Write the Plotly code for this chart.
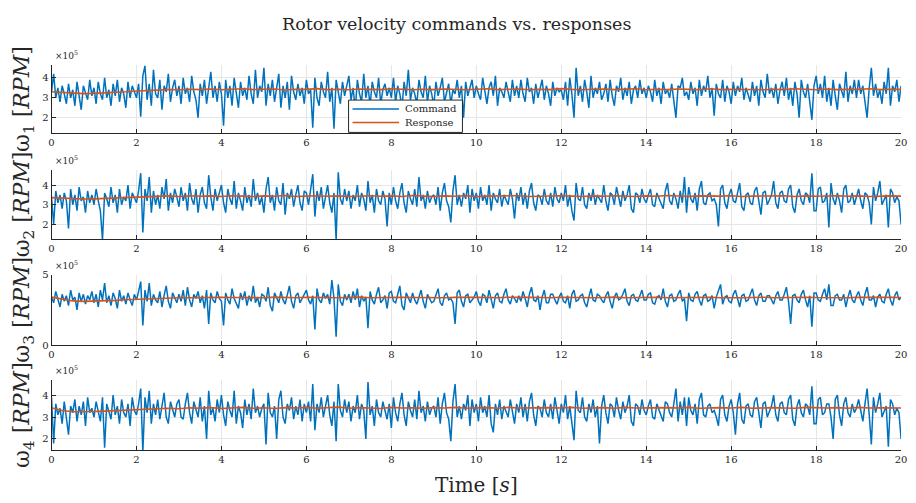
import numpy as np
import plotly.graph_objects as go

# Values in units of 1e5 RPM; commands sampled every 0.05 s, responses every 0.25 s
cmd1 = [3.3,4.2,3.0,3.5,2.8,3.6,3.2,2.7,3.7,3.0,3.4,2.6,3.8,3.1,2.4,3.6,3.3,2.9,3.9,3.1,
        3.5,2.7,3.8,3.2,2.9,4.0,3.0,3.4,2.6,3.7,3.1,3.9,2.8,3.5,3.2,2.5,3.8,3.0,3.6,3.3,
        3.0,3.7,2.05,4.1,4.6,2.9,3.7,2.6,4.4,3.2,3.0,3.9,2.4,3.6,3.3,4.2,2.8,3.5,3.9,3.1,
        3.6,2.7,4.0,3.2,3.5,2.8,4.1,3.3,2.9,2.0,3.7,3.1,3.9,2.7,3.4,4.3,3.0,3.6,2.8,3.8,
        3.2,1.6,3.9,3.0,3.6,2.6,4.0,3.3,2.5,3.8,3.1,3.5,2.9,4.1,3.2,2.7,4.4,3.0,3.6,3.3,
        4.5,2.6,3.7,3.1,3.9,2.8,3.4,4.2,2.5,3.6,3.0,3.8,2.4,4.1,3.3,2.9,3.7,3.1,3.5,2.7,
        3.9,3.2,3.4,1.5,4.0,3.0,2.6,3.8,3.3,3.0,4.3,2.8,3.5,1.45,3.9,3.2,2.7,3.8,3.1,3.6,
        4.1,2.9,3.5,2.4,3.9,3.2,2.8,4.2,3.0,3.6,2.6,3.8,3.3,3.0,4.0,2.7,3.4,3.7,3.1,3.5,
        3.0,4.0,2.8,3.6,3.2,2.5,3.8,3.1,4.4,2.9,3.5,3.2,2.7,3.9,3.3,3.0,4.1,2.8,3.6,3.2,
        2.6,3.8,3.1,3.5,4.0,2.8,3.3,3.7,2.7,3.4,3.2,3.9,3.0,3.6,2.0,3.8,3.1,3.5,3.9,3.0,
        3.6,3.2,2.9,4.0,3.3,2.7,3.5,3.8,3.1,4.1,2.6,3.5,3.3,3.0,3.8,3.2,2.8,3.9,3.1,3.6,
        3.0,3.9,3.2,2.8,4.0,3.3,3.5,2.7,3.7,3.0,3.4,3.9,2.9,3.6,3.2,2.6,3.8,3.1,3.5,3.3,
        3.4,2.9,3.8,2.6,4.0,3.2,2.0,4.5,3.1,3.6,2.8,3.9,3.3,2.5,4.1,3.0,3.5,3.2,3.8,2.9,
        3.2,3.7,2.8,3.9,3.1,2.6,3.6,3.3,4.0,2.9,3.5,3.1,3.8,2.7,3.4,3.6,3.0,3.9,3.2,3.5,
        3.0,3.6,3.3,2.8,3.9,3.1,3.5,2.7,3.8,3.2,3.4,3.0,3.7,2.9,2.0,3.6,3.5,4.0,3.1,3.3,
        2.9,3.8,3.2,3.5,2.6,3.9,3.1,3.6,3.3,4.1,3.0,3.5,2.1,3.7,3.2,3.0,3.9,2.8,3.6,3.3,
        2.7,3.8,3.1,3.6,3.3,4.0,2.9,3.5,3.2,2.8,3.8,3.1,3.6,2.6,3.9,3.3,3.0,4.2,3.2,3.5,
        3.0,3.7,2.7,3.4,3.8,3.1,4.0,2.9,3.5,2.6,3.8,3.2,2.0,3.9,3.3,3.0,3.7,2.9,1.9,3.6,
        4.1,3.2,3.7,3.0,4.1,2.8,3.5,2.6,3.9,3.1,2.4,3.7,3.3,3.0,4.3,2.8,3.6,3.2,3.9,3.0,
        3.9,3.2,3.6,2.8,2.0,3.5,4.5,3.1,3.7,3.0,3.4,2.7,3.8,3.2,4.5,2.6,3.6,3.3,3.9,2.8,
        3.6]

cmd2 = [3.4,2.0,3.7,3.1,3.5,2.8,3.6,3.2,1.8,3.8,3.0,3.5,2.7,3.9,3.2,3.4,2.6,3.7,3.1,3.5,
        3.0,3.8,3.2,2.7,1.2,3.6,3.3,2.9,3.9,3.1,3.5,2.6,3.8,3.0,3.4,3.2,4.0,2.8,3.6,3.3,
        3.1,3.7,4.6,1.6,3.8,3.2,4.4,2.6,3.7,3.0,3.5,2.8,3.9,3.3,4.3,2.7,3.6,3.1,3.8,3.4,
        2.9,3.9,3.2,3.6,2.7,4.1,3.3,3.0,3.8,2.6,3.5,3.9,3.1,2.8,4.5,3.4,2.7,3.8,3.2,3.6,
        4.0,3.1,2.6,3.8,3.3,3.0,4.2,2.8,3.6,3.2,2.7,3.9,3.1,3.5,2.9,4.3,3.2,3.6,3.0,3.4,
        2.6,3.8,4.4,3.1,3.5,2.7,3.9,3.2,3.0,4.1,2.5,3.6,3.3,3.8,2.9,3.5,4.0,3.1,2.7,3.7,
        3.6,3.0,3.8,4.55,2.4,3.7,3.2,3.9,2.8,3.4,4.0,3.1,2.6,3.6,1.2,4.65,3.3,3.0,3.8,3.2,
        3.7,2.8,3.5,3.2,4.0,2.9,3.6,3.3,2.7,4.2,3.1,3.5,2.6,3.8,3.2,3.0,3.7,3.3,1.9,3.6,
        3.0,3.9,3.2,2.8,3.6,4.1,3.1,2.6,3.7,3.3,3.0,3.8,2.9,4.4,3.2,3.5,2.8,3.7,3.1,3.4,
        3.5,3.0,3.9,2.7,3.6,4.1,3.2,2.9,2.1,3.7,4.5,3.0,3.5,2.9,3.6,3.3,4.0,2.6,3.8,3.2,
        3.6,2.8,3.9,3.2,3.5,3.0,4.0,2.7,3.6,3.3,3.1,3.8,2.9,3.5,3.2,3.0,3.8,3.3,2.3,3.6,
        3.2,3.9,3.0,3.6,2.8,3.7,4.1,3.1,2.7,3.5,3.4,3.0,3.8,3.2,3.0,3.6,2.9,3.9,3.3,3.1,
        3.6,3.2,4.0,2.9,3.5,2.7,2.2,4.1,3.3,3.2,3.9,3.0,2.8,3.6,3.2,3.8,3.0,3.5,3.3,3.1,
        4.0,3.2,2.7,3.6,3.5,3.0,3.9,3.3,2.9,3.7,3.2,3.5,4.0,2.8,2.6,3.6,3.5,3.1,3.8,3.3,
        3.1,3.5,3.8,3.0,2.9,3.6,3.3,3.0,2.8,3.7,4.1,3.2,3.0,3.6,3.3,2.8,3.7,3.1,4.4,2.6,
        3.9,3.3,3.1,3.6,2.7,3.8,4.2,3.1,3.0,3.5,3.6,3.2,3.3,3.0,1.9,3.8,4.0,3.1,2.8,3.5,
        3.8,3.2,3.1,3.6,4.1,2.9,2.7,3.5,3.6,3.1,3.0,3.7,3.9,3.2,2.5,3.6,3.7,3.0,3.3,3.5,
        4.2,3.1,2.8,3.6,3.7,3.2,3.1,3.8,4.0,2.9,2.6,3.5,3.8,3.2,3.0,3.6,3.5,3.1,4.6,2.7,
        2.7,3.8,3.9,3.1,3.2,3.6,1.85,4.1,3.3,3.0,3.6,3.2,2.6,3.8,4.0,3.1,3.2,3.6,3.0,3.4,
        3.8,3.2,2.8,3.6,3.5,3.1,2.0,3.9,3.2,3.6,4.2,3.0,3.3,3.5,1.85,3.8,3.6,3.1,3.4,3.2,
        2.0]

cmd3 = [3.4,3.0,3.8,3.2,2.7,3.6,3.1,3.5,2.8,3.9,3.2,3.4,2.5,3.7,3.1,3.6,2.9,3.5,3.2,3.8,
        3.0,3.6,2.7,3.9,3.2,4.4,3.0,3.5,2.8,3.7,3.3,2.6,3.9,3.1,3.5,2.9,3.7,3.2,2.8,3.6,
        3.2,3.8,4.5,1.4,3.9,3.1,4.4,2.8,3.6,3.2,3.0,3.8,2.7,3.5,4.2,3.1,2.6,3.7,3.3,3.0,
        3.6,3.1,3.9,2.8,4.1,3.2,2.7,3.6,3.3,3.8,3.0,3.5,2.6,3.9,1.5,3.7,3.2,3.0,3.8,3.3,
        3.1,1.4,3.7,3.2,2.9,4.0,3.3,3.0,2.6,3.7,3.2,3.8,2.8,3.5,3.1,4.2,3.0,3.4,2.7,3.6,
        3.5,3.1,4.1,2.8,2.4,3.7,3.3,3.0,3.8,3.2,2.9,3.6,4.2,3.1,2.6,3.5,3.7,3.0,3.3,3.6,
        3.9,3.2,2.9,3.5,1.1,4.0,3.2,3.0,3.7,3.3,3.6,2.9,4.6,3.3,0.6,4.3,3.1,2.8,3.6,3.2,
        3.6,3.0,3.8,3.2,4.0,2.7,3.5,3.1,3.4,1.2,3.8,3.2,2.9,3.6,4.1,3.0,3.2,3.5,2.6,3.7,
        3.8,3.1,3.0,3.6,4.2,2.8,2.5,3.7,3.3,3.0,3.7,3.2,2.9,3.5,3.9,3.1,2.6,3.6,3.3,3.0,
        3.1,3.6,4.0,3.0,2.8,3.5,3.7,3.2,3.3,3.0,1.5,3.7,3.9,3.1,2.7,3.5,3.6,3.0,3.2,3.4,
        3.8,3.1,2.8,3.6,3.5,3.0,3.9,3.2,2.6,3.5,3.7,3.1,3.0,3.6,4.0,3.2,2.9,3.5,3.3,3.0,
        3.5,3.1,3.8,3.3,2.7,3.6,4.1,3.2,3.1,3.5,2.5,3.4,3.9,3.0,3.0,3.6,3.6,3.2,2.9,3.4,
        3.7,3.1,3.0,3.5,2.6,3.6,3.9,3.1,3.2,3.5,3.6,3.0,2.7,3.4,4.0,3.2,3.1,3.6,3.5,3.2,
        3.0,3.5,3.8,3.1,2.6,3.4,3.7,3.2,3.3,3.6,4.0,3.1,2.8,3.5,3.6,3.2,3.1,3.5,3.9,3.2,
        3.2,3.6,3.7,3.0,2.9,3.4,3.5,3.2,4.0,3.1,2.7,3.5,3.6,3.1,3.2,3.6,3.9,3.1,3.3,1.7,
        3.7,3.2,3.1,3.6,3.8,3.2,2.8,3.5,3.6,3.1,3.2,3.5,2.6,3.4,3.8,4.3,2.9,3.4,3.5,3.1,
        3.0,3.6,3.9,3.2,2.7,3.5,3.6,3.1,3.2,3.6,4.0,3.2,2.8,3.5,3.7,3.1,3.1,3.5,3.5,3.2,
        2.9,3.5,3.8,3.2,3.2,3.6,4.1,3.1,1.5,3.5,3.6,3.2,3.0,3.6,3.9,3.2,2.7,3.5,1.3,3.7,
        3.7,3.2,3.1,3.6,4.0,3.2,4.3,2.8,2.8,3.5,3.6,3.2,3.2,3.6,2.7,3.4,3.9,3.2,3.0,3.5,
        3.8,3.2,2.8,3.6,4.1,3.2,3.2,3.5,2.7,3.4,3.6,3.1,3.0,3.6,4.0,3.2,2.8,3.5,3.8,3.2,
        3.4]

cmd4 = [3.9,1.8,3.6,3.1,3.4,2.7,3.7,3.0,2.2,3.5,3.2,3.8,2.8,3.5,3.1,3.7,2.6,3.9,3.2,3.4,
        3.0,3.7,3.3,2.8,3.9,1.6,3.6,3.2,2.9,4.0,3.1,3.5,2.7,3.8,3.2,3.0,3.6,2.6,3.9,3.3,
        3.1,3.6,4.3,1.4,3.9,3.2,4.2,2.7,3.6,3.1,3.8,2.9,3.5,4.1,3.0,2.7,3.7,3.3,3.0,3.6,
        3.8,3.0,2.9,3.6,4.1,3.2,2.7,3.7,3.3,3.0,3.9,2.8,3.5,2.0,4.2,3.1,3.4,2.8,3.8,3.2,
        4.0,3.1,2.6,3.7,3.3,3.0,4.2,2.7,3.5,3.2,2.5,3.8,3.1,3.6,2.9,4.3,3.2,3.5,3.0,3.4,
        3.6,1.75,4.1,3.2,3.0,3.5,2.0,3.8,4.2,3.0,2.7,3.6,3.3,3.9,2.9,3.5,3.1,3.8,2.8,3.6,
        3.2,3.7,2.8,4.5,2.4,3.6,3.2,3.9,3.0,3.5,4.0,3.1,2.6,3.7,1.9,4.5,3.3,3.0,3.8,3.2,
        3.7,2.8,3.5,3.2,4.0,2.9,3.6,3.3,2.0,4.6,3.1,3.5,2.6,3.8,3.2,3.0,3.7,3.3,2.9,3.6,
        2.5,3.9,3.2,2.8,3.6,4.1,3.1,2.6,3.7,3.3,3.0,3.8,2.9,4.2,3.2,3.5,2.8,3.7,3.1,3.4,
        3.5,3.0,3.9,2.7,3.6,4.1,3.2,2.9,1.9,3.7,4.5,3.0,3.5,2.9,3.6,3.3,4.0,2.6,3.8,3.2,
        3.6,2.8,3.9,3.2,3.5,3.0,4.0,2.7,2.3,3.6,3.1,3.8,2.9,3.5,3.2,3.0,3.8,3.3,2.7,3.6,
        3.2,3.9,3.0,3.6,2.8,3.7,4.1,3.1,2.6,3.5,3.4,3.0,3.8,3.2,3.0,3.6,2.9,3.9,3.3,2.7,
        3.6,3.2,4.0,2.9,3.5,2.7,1.95,4.2,3.3,3.2,3.9,3.0,2.8,3.6,3.2,3.8,3.0,3.5,1.8,3.5,
        4.0,3.2,2.7,3.6,3.5,3.0,3.9,3.3,2.9,3.7,3.2,3.5,4.0,2.8,2.6,3.6,3.5,3.1,3.8,3.3,
        3.1,3.5,3.8,3.0,2.9,3.6,3.3,3.0,2.8,3.7,3.6,3.2,3.0,3.6,4.3,2.8,3.7,3.1,3.9,2.6,
        3.9,3.3,3.1,3.6,2.7,3.8,4.1,3.1,3.0,3.5,3.6,3.2,3.3,3.0,2.6,3.8,4.0,3.1,2.8,3.5,
        3.8,3.2,2.2,3.6,4.1,2.9,2.7,3.5,3.6,3.1,3.0,3.7,3.9,3.2,2.5,3.6,3.7,3.0,3.3,3.5,
        4.0,3.1,2.8,3.6,3.7,3.2,3.1,3.8,4.0,2.9,2.6,3.5,3.8,3.2,3.0,3.6,3.5,3.1,4.4,2.7,
        2.7,3.8,3.9,3.1,3.2,3.6,3.6,3.0,2.0,3.8,4.0,3.1,2.6,3.6,3.9,3.2,3.0,3.6,3.2,3.4,
        3.8,3.2,2.8,3.6,4.3,3.1,1.75,3.9,3.2,3.6,4.1,3.0,3.3,3.5,1.65,3.8,3.6,3.1,3.4,3.2,
        2.0]

resp1 = [3.30,3.27,3.23,3.21,3.22,3.24,3.27,3.30,3.34,3.37,3.39,3.41,3.40,3.43,3.41,3.44,
         3.40,3.43,3.45,3.41,3.42,3.44,3.39,3.43,3.42,3.46,3.41,3.43,3.40,3.44,3.42,3.41,
         3.45,3.42,3.40,3.43,3.41,3.44,3.42,3.40,3.43,3.45,3.41,3.42,3.44,3.40,3.43,3.41,
         3.46,3.42,3.40,3.43,3.44,3.41,3.42,3.45,3.40,3.43,3.41,3.44,3.42,3.40,3.45,3.41,
         3.43,3.42,3.44,3.40,3.43,3.41,3.45,3.42,3.40,3.44,3.41,3.43,3.42,3.45,3.41,3.43,3.42]
resp2 = [3.36,3.33,3.30,3.29,3.30,3.32,3.34,3.37,3.40,3.42,3.43,3.45,3.42,3.46,3.43,3.45,
         3.42,3.46,3.44,3.42,3.45,3.43,3.47,3.42,3.44,3.46,3.43,3.45,3.42,3.44,3.46,3.43,
         3.45,3.42,3.47,3.44,3.42,3.45,3.43,3.46,3.42,3.44,3.45,3.43,3.46,3.42,3.44,3.43,
         3.46,3.44,3.42,3.45,3.43,3.46,3.44,3.42,3.45,3.43,3.47,3.44,3.42,3.45,3.43,3.44,
         3.46,3.42,3.44,3.45,3.43,3.46,3.42,3.45,3.43,3.44,3.46,3.43,3.45,3.42,3.44,3.45,3.44]
resp3 = [3.40,3.25,3.13,3.10,3.11,3.14,3.17,3.21,3.25,3.29,3.32,3.34,3.36,3.35,3.38,3.36,
         3.39,3.37,3.35,3.38,3.36,3.40,3.37,3.35,3.39,3.36,3.38,3.35,3.37,3.40,3.36,3.38,
         3.35,3.39,3.37,3.36,3.38,3.35,3.39,3.36,3.38,3.37,3.35,3.39,3.36,3.38,3.37,3.35,
         3.39,3.36,3.38,3.35,3.37,3.40,3.36,3.38,3.36,3.39,3.35,3.37,3.38,3.36,3.39,3.35,
         3.38,3.36,3.37,3.39,3.35,3.38,3.36,3.39,3.37,3.35,3.38,3.36,3.39,3.37,3.36,3.38,3.37]
resp4 = [3.42,3.30,3.24,3.23,3.25,3.27,3.29,3.31,3.34,3.37,3.39,3.40,3.38,3.42,3.40,3.43,
         3.39,3.42,3.44,3.40,3.42,3.39,3.43,3.41,3.44,3.40,3.42,3.45,3.40,3.43,3.41,3.39,
         3.44,3.41,3.42,3.40,3.43,3.41,3.44,3.40,3.42,3.43,3.40,3.44,3.41,3.42,3.40,3.43,
         3.41,3.44,3.40,3.42,3.43,3.40,3.44,3.41,3.42,3.40,3.43,3.41,3.44,3.40,3.42,3.43,
         3.41,3.44,3.40,3.42,3.43,3.41,3.40,3.44,3.42,3.41,3.43,3.40,3.44,3.41,3.42,3.43,3.41]

commands = [cmd1, cmd2, cmd3, cmd4]
responses = [resp1, resp2, resp3, resp4]
series_names = ["Command", "Response"]
y_ranges = [[1.22, 4.65], [1.25, 4.78], [0, 5], [1.5, 4.67]]
y_ticks = [[2, 3, 4], [2, 3, 4], [0, 5], [2, 3, 4]]
x_ticks = [0, 2, 4, 6, 8, 10, 12, 14, 16, 18, 20]
y_titles = ["ω<sub>1</sub> [<i>RPM</i>]", "ω<sub>2</sub> [<i>RPM</i>]",
            "ω<sub>3</sub> [<i>RPM</i>]", "ω<sub>4</sub> [<i>RPM</i>]"]

W, H = 916, 503
panel_px = [(61, 131), (168, 239), (275, 347), (383, 454)]
x_px = (49, 907)

BLUE = "#0072BD"
ORANGE = "#D95319"
FONT = "DejaVu Serif"
INK = "#262626"

fig = go.Figure()
layout = dict(
    width=W, height=H,
    margin=dict(l=0, r=0, t=0, b=0),
    paper_bgcolor="white", plot_bgcolor="white",
    font=dict(family=FONT, color=INK),
    showlegend=False,
)

for i in range(4):
    n = i + 1
    xa = "x" if n == 1 else f"x{n}"
    ya = "y" if n == 1 else f"y{n}"
    tc = np.linspace(0, 20, len(commands[i]))
    tr = np.linspace(0, 20, len(responses[i]))
    fig.add_trace(go.Scatter(x=tc, y=commands[i], mode="lines", xaxis=xa, yaxis=ya,
                             line=dict(color=BLUE, width=1.5), name=series_names[0]))
    fig.add_trace(go.Scatter(x=tr, y=responses[i], mode="lines", xaxis=xa, yaxis=ya,
                             line=dict(color=ORANGE, width=1.6), name=series_names[1]))
    top, bot = panel_px[i]
    xkey = "xaxis" if n == 1 else f"xaxis{n}"
    ykey = "yaxis" if n == 1 else f"yaxis{n}"
    layout[xkey] = dict(
        domain=[x_px[0] / W, x_px[1] / W], anchor=ya, range=[0, 20],
        tickvals=x_ticks, ticks="inside", ticklen=4, tickcolor=INK,
        showline=True, linecolor=INK, linewidth=1,
        showgrid=True, gridcolor="#E6E6E6", gridwidth=1, zeroline=False,
        tickfont=dict(size=10, family=FONT, color=INK),
    )
    if n == 4:
        layout[xkey]["title"] = dict(text="Time [<i>s</i>]", font=dict(size=20, family=FONT),
                                     standoff=14)
    layout[ykey] = dict(
        domain=[1 - bot / H, 1 - top / H], anchor=xa, range=y_ranges[i],
        tickvals=y_ticks[i], ticks="inside", ticklen=4, tickcolor=INK,
        showline=True, linecolor=INK, linewidth=1,
        showgrid=True, gridcolor="#E6E6E6", gridwidth=1, zeroline=False,
        tickfont=dict(size=10, family=FONT, color=INK),
        title=dict(text=y_titles[i], font=dict(size=22, family=FONT), standoff=6),
    )

annotations = [dict(text="Rotor velocity commands vs. responses", x=0.5, y=1 - 19 / H,
                    xref="paper", yref="paper", xanchor="center", yanchor="middle",
                    showarrow=False, font=dict(size=17.5, family=FONT, color=INK))]
for i in range(4):
    top, bot = panel_px[i]
    annotations.append(dict(text="×10<sup>5</sup>", x=(x_px[0] + 2) / W, y=1 - (top - 2) / H,
                            xref="paper", yref="paper", xanchor="left", yanchor="bottom",
                            showarrow=False, font=dict(size=9, family=FONT, color=INK)))

# Legend box (drawn in paper coordinates)
leg_x0, leg_x1, leg_y0, leg_y1 = 349, 464, 97, 130
shapes = [dict(type="rect", xref="paper", yref="paper",
               x0=leg_x0 / W, x1=leg_x1 / W, y0=1 - leg_y1 / H, y1=1 - leg_y0 / H,
               fillcolor="white", line=dict(color=INK, width=1), layer="above")]
for k, (nm, col) in enumerate(zip(series_names, [BLUE, ORANGE])):
    yy = 106 + 14 * k
    shapes.append(dict(type="line", xref="paper", yref="paper",
                       x0=353 / W, x1=400 / W, y0=1 - yy / H, y1=1 - yy / H,
                       line=dict(color=col, width=1.5), layer="above"))
    annotations.append(dict(text=nm, x=404 / W, y=1 - yy / H, xref="paper", yref="paper",
                            xanchor="left", yanchor="middle", showarrow=False,
                            font=dict(size=10, family=FONT, color=INK)))
layout["annotations"] = annotations
layout["shapes"] = shapes
fig.update_layout(**layout)
fig.write_html("out.html")
